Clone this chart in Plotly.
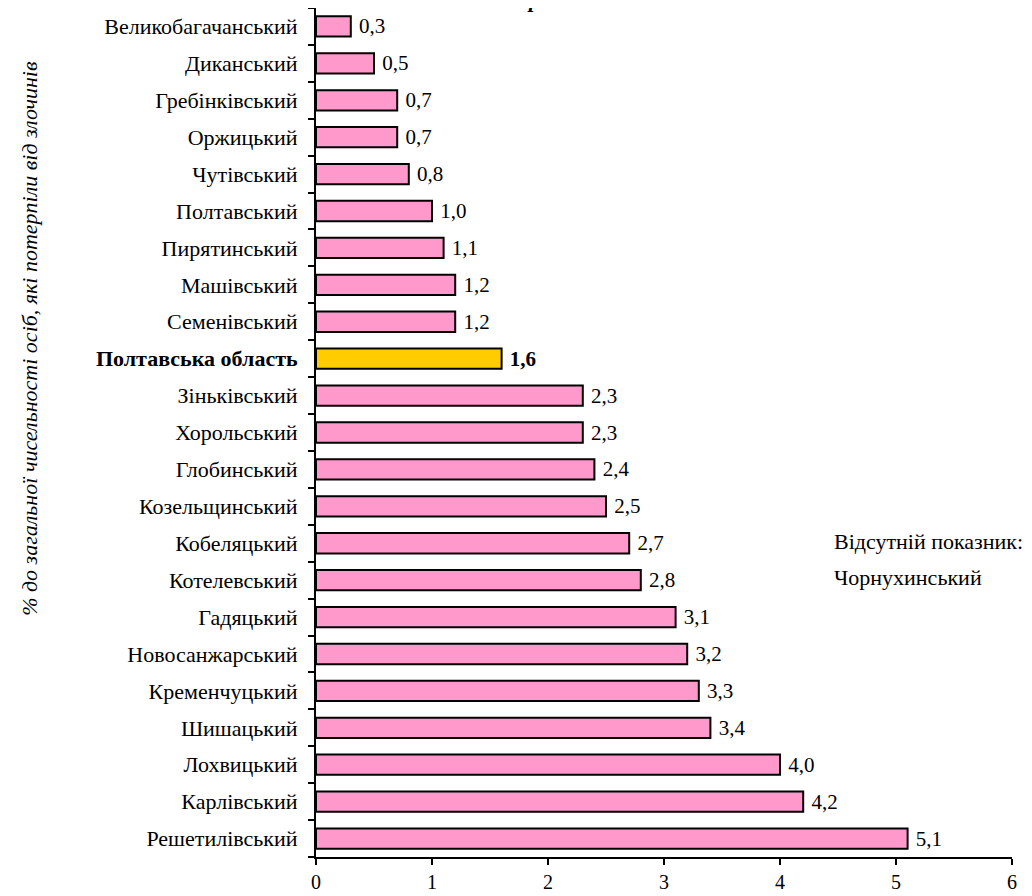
import plotly.graph_objects as go

regions = ["Великобагачанський", "Диканський", "Гребінківський", "Оржицький", "Чутівський",
           "Полтавський", "Пирятинський", "Машівський", "Семенівський", "Полтавська область",
           "Зіньківський", "Хорольський", "Глобинський", "Козельщинський", "Кобеляцький",
           "Котелевський", "Гадяцький", "Новосанжарський", "Кременчуцький", "Шишацький",
           "Лохвицький", "Карлівський", "Решетилівський"]
values = [0.3, 0.5, 0.7, 0.7, 0.8, 1.0, 1.1, 1.2, 1.2, 1.6, 2.3, 2.3, 2.4, 2.5, 2.7,
          2.8, 3.1, 3.2, 3.3, 3.4, 4.0, 4.2, 5.1]
highlight = "Полтавська область"
x_ticks = [0, 1, 2, 3, 4, 5, 6]
note_lines = ["Відсутній показник:", "Чорнухинський"]

FONT = "Liberation Serif"
colors = ["#FFCC00" if r == highlight else "#FF99CC" for r in regions]
texts = [("\u00a0<b>%s</b>" if r == highlight else "\u00a0%s") % f"{v:.1f}".replace(".", ",")
         for r, v in zip(regions, values)]
ticktext = [("<b>%s</b>" % r) if r == highlight else r for r in regions]

fig = go.Figure(go.Bar(
    x=values, y=regions, orientation="h",
    marker=dict(color=colors, line=dict(color="black", width=2)),
    text=texts, textposition="outside", cliponaxis=False, constraintext="none",
    textfont=dict(family=FONT, size=21, color="black"),
))

annotations = [
    dict(text="<i>% до загальної чисельності осіб, які потерпіли від злочинів</i>",
         textangle=-90, xref="paper", yref="paper", x=-0.4115, y=0.611,
         xanchor="center", yanchor="middle",
         showarrow=False, font=dict(family=FONT, size=22)),
    dict(text="<b><i>райони</i></b>", xref="paper", yref="paper",
         x=0.30, y=1.0, yanchor="bottom", yshift=-6, showarrow=False,
         font=dict(family=FONT, size=22)),
]
for i, line in enumerate(note_lines):
    annotations.append(dict(text=line, xref="paper", yref="paper",
                            x=0.741, y=0.372 - 0.0424 * i, xanchor="left", yanchor="middle",
                            showarrow=False, font=dict(family=FONT, size=22)))

fig.update_layout(
    width=1024, height=888,
    margin=dict(l=308, r=20, t=0, b=39, autoexpand=False),
    paper_bgcolor="white", plot_bgcolor="white",
    bargap=0.45, showlegend=False,
    font=dict(family=FONT, size=22, color="black"),
    xaxis=dict(range=[0, 6], tickvals=x_ticks, ticks="outside", ticklen=6, tickwidth=2,
               tickcolor="black", showline=True, linecolor="black", linewidth=2,
               showgrid=False, zeroline=False, tickfont=dict(family=FONT, size=20),
               ticklabelstandoff=0, automargin=False),
    yaxis=dict(categoryorder="array", categoryarray=regions, autorange="reversed",
               tickvals=regions, ticktext=ticktext, tickson="boundaries",
               ticks="outside", ticklen=6, tickwidth=2, tickcolor="black",
               showline=True, linecolor="black", linewidth=2, showgrid=False,
               tickfont=dict(family=FONT, size=22), ticklabelstandoff=12,
               automargin=False),
    annotations=annotations,
)

fig.write_html("out.html")
